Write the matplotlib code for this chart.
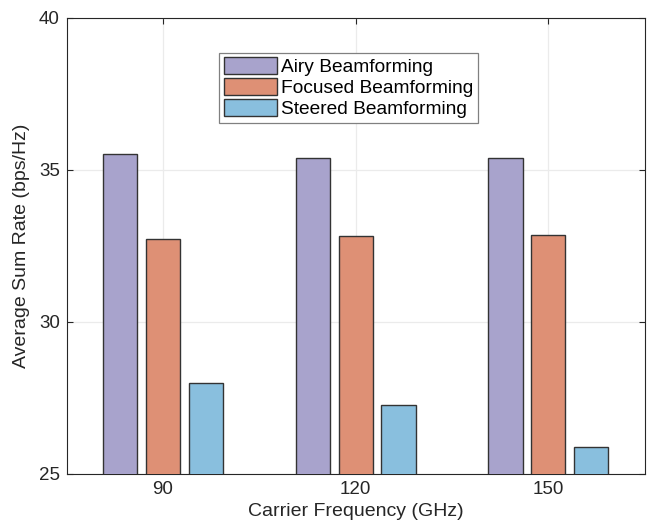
import numpy as np
from matplotlib import pyplot as plt

plt.rcParams['font.family'] = ['Liberation Sans', 'DejaVu Sans']

frequencies = [90, 120, 150]
series_names = ["Airy Beamforming", "Focused Beamforming", "Steered Beamforming"]
airy_rate = [35.53, 35.38, 35.38]
focused_rate = [32.71, 32.84, 32.85]
steered_rate = [27.98, 27.26, 25.90]
colors = ['#a8a3cc', '#de9075', '#89bfde']

text_color = '#262626'

fig = plt.figure(figsize=(6.47, 5.27), dpi=100)
ax = fig.add_axes([0.1031, 0.1006, 0.8933, 0.8658])

# matlab-like grouped bars: 3 bars per group
spacing = 30
bar_w = spacing * 0.8 / 4.5
offset = spacing / 4.5
x = np.array(frequencies, dtype=float)
for k, (vals, name) in enumerate(zip([airy_rate, focused_rate, steered_rate], series_names)):
    ax.bar(x + (k - 1) * offset, vals, width=bar_w, color=colors[k],
           edgecolor='#333333', linewidth=1.0, label=name, zorder=3)

ax.set_xlim(75, 165)
ax.set_ylim(25, 40)
ax.set_xticks(frequencies)
ax.set_yticks([25, 30, 35, 40])
ax.grid(True, color='#ebebeb', linewidth=0.9, zorder=0)
ax.set_axisbelow(True)

ax.tick_params(direction='in', length=4.3, width=0.8, colors=text_color,
               labelsize=13.5, top=True, right=True, pad=5)
for sp in ax.spines.values():
    sp.set_color(text_color)
    sp.set_linewidth(0.8)

ax.set_xlabel("Carrier Frequency (GHz)", fontsize=14, color=text_color, labelpad=4)
ax.set_ylabel("Average Sum Rate (bps/Hz)", fontsize=14, color=text_color, labelpad=6)

leg = ax.legend(loc='upper left', bbox_to_anchor=(219.3 / 647, 1 - 52.7 / 527),
                bbox_transform=fig.transFigure, fontsize=13.8, frameon=True,
                fancybox=False, edgecolor='#808080', framealpha=1,
                borderpad=0.25, labelspacing=0.1, handlelength=2.75,
                handleheight=0.95, handletextpad=0.2, borderaxespad=0)
leg.get_frame().set_linewidth(0.9)
for t in leg.get_texts():
    t.set_color('#000000')

fig.savefig('out.png', dpi=100)
